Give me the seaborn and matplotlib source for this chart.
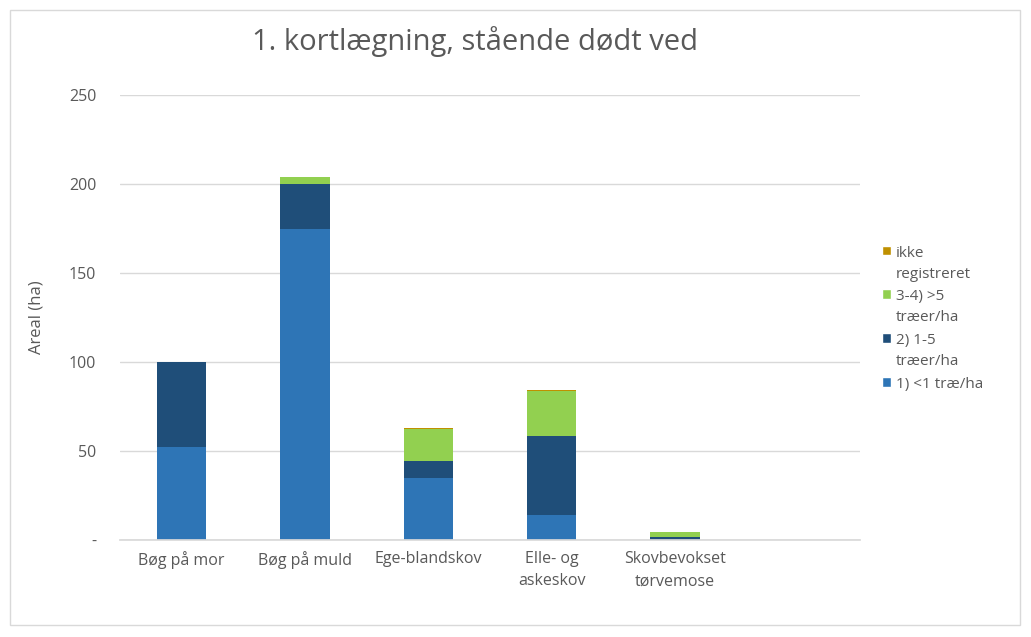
import matplotlib
matplotlib.use("Agg")
import matplotlib.pyplot as plt
import seaborn as sns
import pandas as pd
import numpy as np
from matplotlib.patches import Rectangle, Patch

categories = ["Bøg på mor", "Bøg på muld", "Ege-blandskov", "Elle- og\naskeskov", "Skovbevokset\ntørvemose"]
s1 = [52, 175, 35, 14, 0]      # 1) <1 træ/ha
s2 = [48, 25, 9.5, 44.5, 1.5]  # 2) 1-5 træer/ha
s3 = [0, 4, 18, 25, 3]         # 3-4) >5 træer/ha
s4 = [0, 0, 0.6, 0.8, 0]       # ikke registreret
series_names = ["1) <1 træ/ha", "2) 1-5\ntræer/ha", "3-4) >5\ntræer/ha", "ikke\nregistreret"]
colors = ["#2E75B6", "#1F4E79", "#92D050", "#BF9000"]
yticks = [0, 50, 100, 150, 200, 250]
ytick_labels = ["-", "50", "100", "150", "200", "250"]

sns.set_theme(style="white")
plt.rcParams['font.family'] = ['Open Sans', 'DejaVu Sans']

fig = plt.figure(figsize=(10.31, 6.37), dpi=100)
ax = fig.add_axes([120/1031, 1-540/637, 740/1031, 445/637])

df = pd.DataFrame({"cat": categories})
bottom = np.zeros(len(categories))
for vals, name, col in zip([s1, s2, s3, s4], series_names, colors):
    df["v"] = vals
    sns.barplot(data=df, x="cat", y="v", ax=ax, color=col, bottom=bottom.copy(),
                width=0.4, saturation=1, linewidth=0, errorbar=None)
    bottom += np.array(vals)

ax.set_xlim(-0.5, 5.5)
ax.set_ylim(0, 250)
ax.set_yticks(yticks)
ax.set_yticklabels(ytick_labels)
ax.yaxis.grid(True, color="#D9D9D9", linewidth=1)
ax.set_axisbelow(True)
for s in ["top", "right", "left"]:
    ax.spines[s].set_visible(False)
ax.spines["bottom"].set_color("#D9D9D9")
ax.tick_params(axis="y", length=0, labelsize=11.5, colors="#595959", pad=17)
ax.tick_params(axis="x", length=0, labelsize=11.5, colors="#595959", pad=8)
for t in ax.get_xticklabels():
    t.set_linespacing(1.5)
ax.set_xlabel("")
ax.set_ylabel("Areal (ha)", fontsize=12, color="#595959", labelpad=18)
fig.text(475/1031, 1-42/637, "1. kortlægning, stående dødt ved", ha="center", va="center",
         fontsize=21, color="#595959")

handles = [Patch(facecolor=c, label=n) for c, n in zip(colors, series_names)][::-1]
leg = fig.legend(handles=handles, loc="upper left", bbox_to_anchor=(868/1031, 1-232/637),
                 frameon=False, fontsize=11, handlelength=0.6, handleheight=0.6,
                 handletextpad=0.3, labelspacing=0.5, labelcolor="#595959")
for t in leg.get_texts():
    t.set_linespacing(1.55)
try:
    for hp in leg._legend_handle_box.get_children()[0].get_children():
        hp.align = "top"
except Exception:
    pass

fig.patches.append(Rectangle((10/1031, 12/637), 1010/1031, 615/637, transform=fig.transFigure,
                             fill=False, edgecolor="#D9D9D9", linewidth=1))
fig.savefig("out.png", dpi=100)
